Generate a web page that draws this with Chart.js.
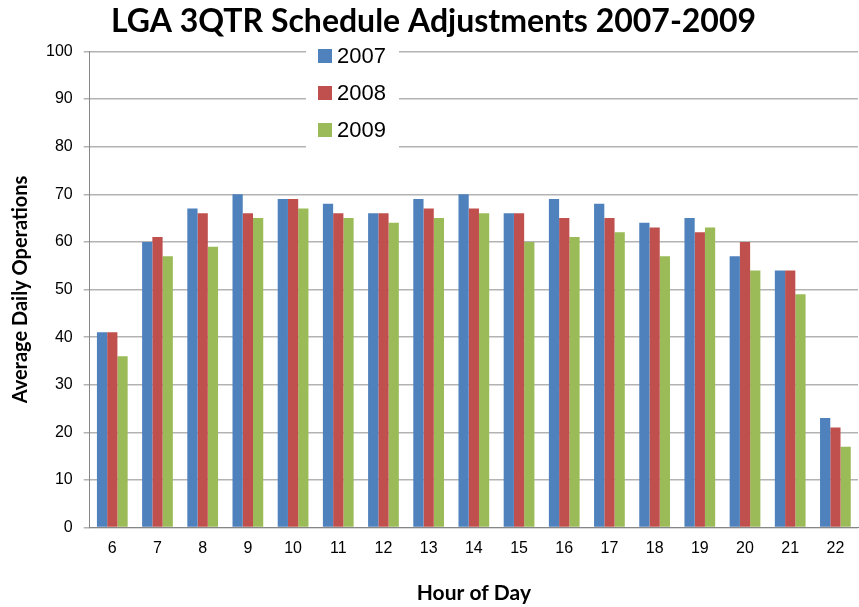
<!DOCTYPE html>
<html>
<head>
<meta charset="utf-8">
<script src="https://cdn.jsdelivr.net/npm/chart.js@4"></script>
<style>
  html, body { margin: 0; padding: 0; background: #fff; }
  #wrap { width: 859px; height: 607px; }
</style>
</head>
<body>
<div id="wrap"><canvas id="chart"></canvas></div>
<script>
const hours = ['6', '7', '8', '9', '10', '11', '12', '13', '14', '15', '16', '17', '18', '19', '20', '21', '22'];
const ops2007 = [41, 60, 67, 70, 69, 68, 66, 69, 70, 66, 69, 68, 64, 65, 57, 54, 23];
const ops2008 = [41, 61, 66, 66, 69, 66, 66, 67, 67, 66, 65, 65, 63, 62, 60, 54, 21];
const ops2009 = [36, 57, 59, 65, 67, 65, 64, 65, 66, 60, 61, 62, 57, 63, 54, 49, 17];

const COLORS = ['#4F81BD', '#C0504D', '#9BBB59'];

// legend box sitting inside the plot, like the original
const insideLegend = {
    id: 'insideLegend',
    afterDraw(chart) {
        const ctx = chart.ctx;
        const x = 306, y = 40, w = 93, h = 108;
        ctx.save();
        ctx.fillStyle = '#fff';
        ctx.fillRect(x, y, w, h);
        ctx.font = '22px "Liberation Sans", Arial, sans-serif';
        ctx.textBaseline = 'middle';
        chart.data.datasets.forEach((ds, i) => {
            const cy = 56 + i * 37;
            ctx.fillStyle = ds.backgroundColor;
            ctx.fillRect(318, cy - 7, 14, 14);
            ctx.fillStyle = '#000';
            ctx.fillText(ds.label, 337, cy + 1);
        });
        ctx.restore();
    }
};

new Chart(document.getElementById('chart'), {
    type: 'bar',
    data: {
        labels: hours,
        datasets: [
            { label: '2007', data: ops2007, backgroundColor: COLORS[0] },
            { label: '2008', data: ops2008, backgroundColor: COLORS[1] },
            { label: '2009', data: ops2009, backgroundColor: COLORS[2] }
        ]
    },
    options: {
        responsive: true,
        maintainAspectRatio: false,
        animation: false,
        layout: { padding: { left: 9, right: 1, top: 0, bottom: 1 } },
        datasets: {
            bar: { barPercentage: 1.0, categoryPercentage: 0.68, borderWidth: 0 }
        },
        plugins: {
            legend: { display: false },
            tooltip: { enabled: false },
            title: {
                display: true,
                text: 'LGA 3QTR Schedule Adjustments 2007-2009',
                color: '#000',
                font: { family: 'Lato', size: 32, weight: 'bold' },
                padding: { top: 2, bottom: 11 }
            }
        },
        scales: {
            x: {
                grid: { display: false },
                border: { color: '#868686', width: 1 },
                ticks: { color: '#000', font: { family: '"Liberation Sans", Arial', size: 16 }, padding: 3 },
                title: {
                    display: true,
                    text: 'Hour of Day',
                    color: '#000',
                    font: { family: 'Lato', size: 21, weight: 'bold' },
                    padding: { top: 20, bottom: 0 }
                }
            },
            y: {
                min: 0,
                max: 100,
                ticks: { stepSize: 10, color: '#000', font: { family: '"Liberation Sans", Arial', size: 16 }, padding: 11 },
                grid: { color: '#B3B3B3', lineWidth: 1.5, tickLength: 6 },
                border: { color: '#868686', width: 1 },
                title: {
                    display: true,
                    text: 'Average Daily Operations',
                    color: '#000',
                    font: { family: 'Lato', size: 20, weight: 'bold' },
                    padding: { top: 0, bottom: 2 }
                }
            }
        }
    },
    plugins: [insideLegend]
});
</script>
</body>
</html>
